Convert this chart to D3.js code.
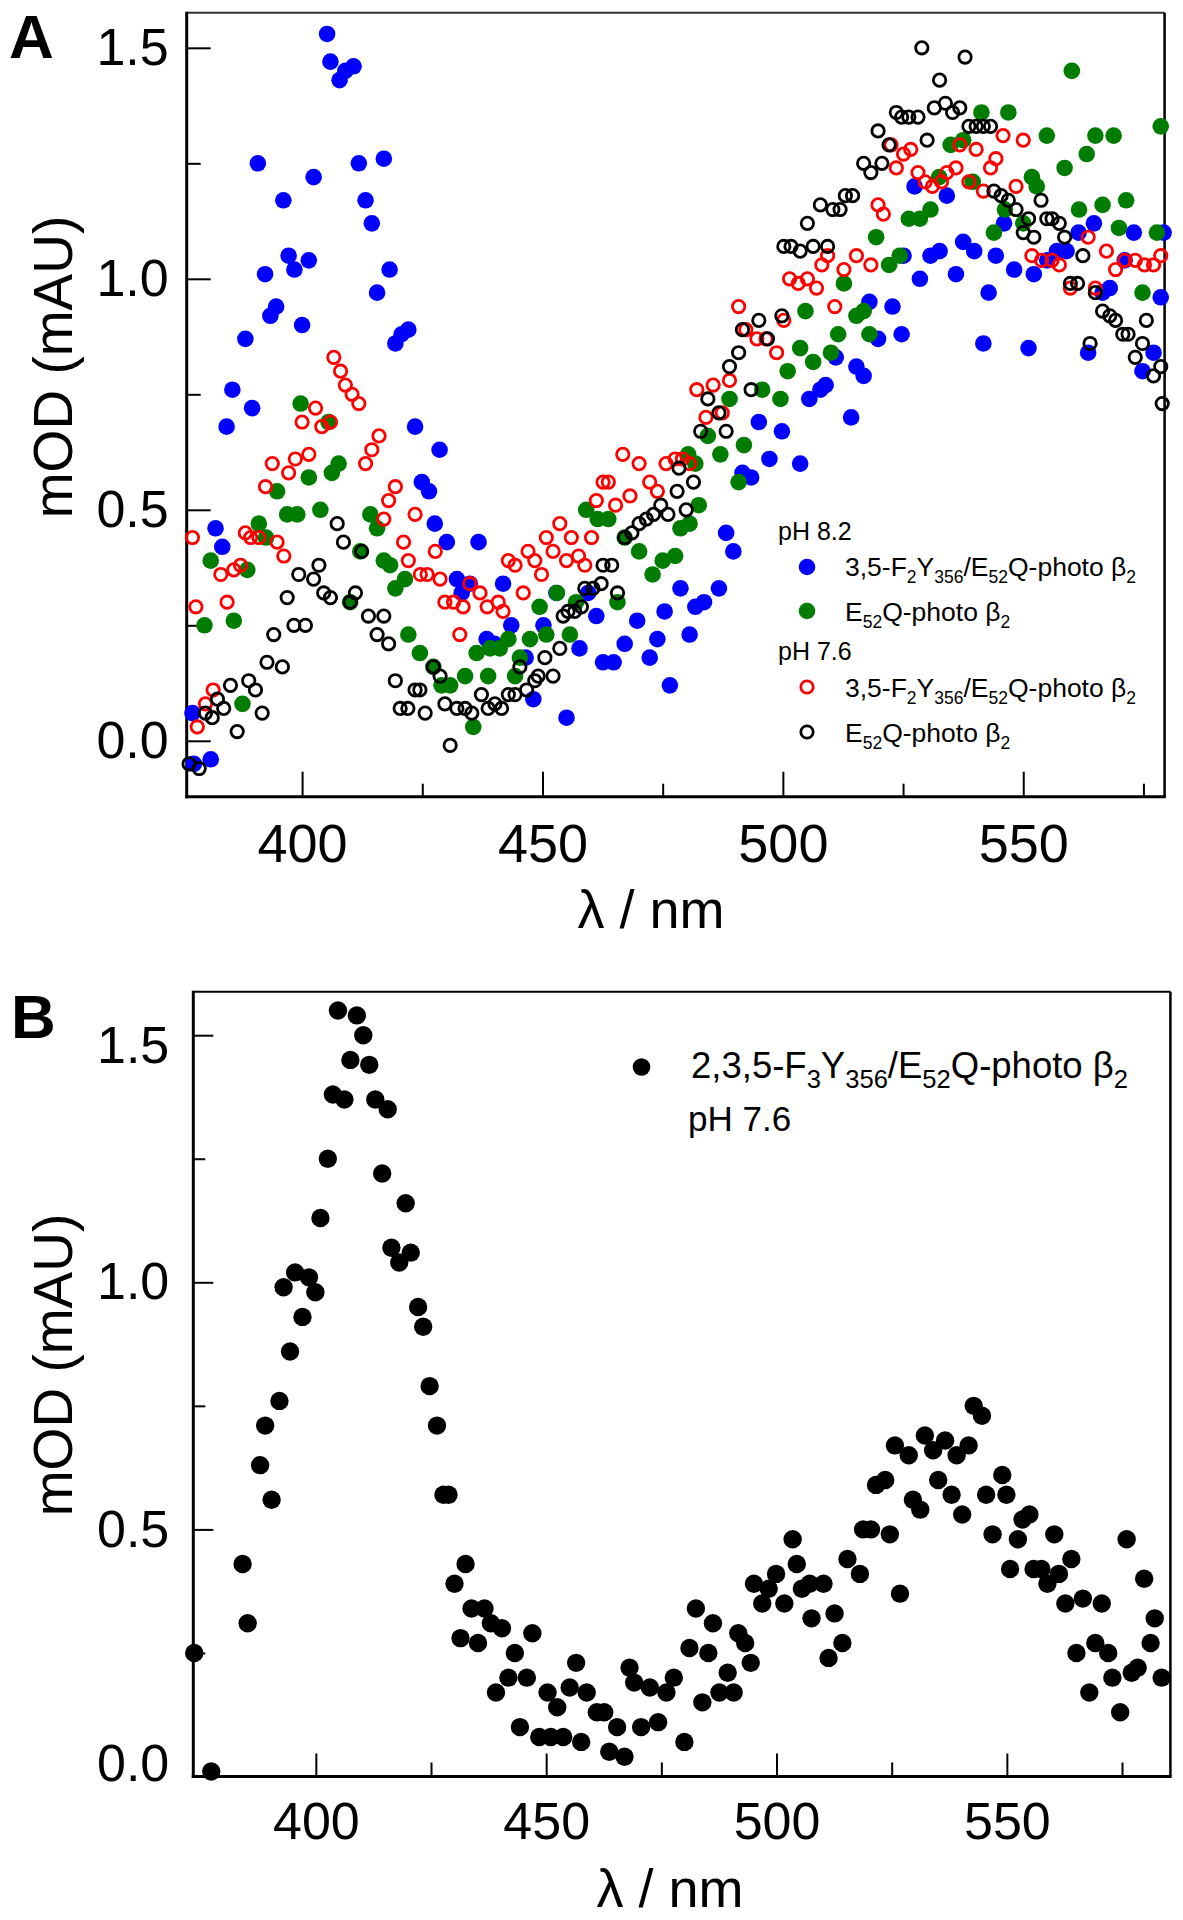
<!DOCTYPE html>
<html><head><meta charset="utf-8">
<script src="https://cdn.jsdelivr.net/npm/d3@7"></script>
<style>
body{margin:0;background:#fff}
svg{display:block}
text{font-family:"Liberation Sans",Arial,Helvetica,sans-serif;fill:#000}
</style>
</head><body>
<svg id="chart" width="1183" height="1920"></svg>
<script>
// ---------------- DATA ----------------
const xMajorTicks = [400, 450, 500, 550];
const xMinorTicks = [425, 475, 525, 575];
const yMajorTicks = [0, 0.5, 1.0, 1.5];
const yMinorTicks = [0.25, 0.75, 1.25];

// Panel A, pH 8.2, 3,5-F2Y356/E52Q-photoβ2 (blue, filled)
const aBlue = [[377.2,0.06],[377.5,-0.05],[381.0,-0.04],[382.0,0.46],[383.4,0.42],[384.3,0.68],[385.5,0.76],[388.2,0.87],[389.6,0.72],[390.8,1.25],[392.3,1.01],[393.4,0.92],[394.6,0.94],[396.1,1.17],[397.2,1.05],[398.4,1.02],[400.0,0.90],[401.4,1.04],[402.4,1.22],[405.2,1.53],[405.9,1.47],[407.8,1.43],[409.0,1.45],[410.7,1.46],[411.8,1.25],[413.2,1.17],[414.5,1.12],[415.6,0.97],[417.0,1.26],[418.2,1.02],[419.4,0.86],[420.7,0.88],[422.1,0.89],[423.5,0.68],[424.9,0.56],[426.4,0.54],[427.6,0.47],[428.6,0.63],[430.1,0.43],[432.2,0.35],[433.2,0.32],[434.9,0.34],[436.7,0.43],[438.4,0.22],[440.0,0.21],[441.8,0.34],[443.5,0.25],[446.5,0.18],[448.1,0.09],[450.2,0.25],[452.9,0.32],[455.0,0.05],[457.7,0.20],[459.5,0.32],[461.2,0.27],[462.6,0.17],[464.8,0.17],[467.1,0.21],[469.7,0.26],[472.3,0.18],[473.9,0.22],[475.4,0.28],[476.5,0.12],[478.7,0.33],[480.6,0.23],[481.8,0.29],[483.6,0.30],[486.7,0.33],[488.2,0.45],[489.7,0.41],[491.6,0.58],[493.4,0.57],[495.0,0.69],[497.2,0.61],[499.8,0.67],[503.6,0.60],[505.5,0.74],[507.8,0.76],[508.9,0.77],[511.0,0.83],[514.2,0.70],[515.3,0.81],[516.8,0.79],[518.0,0.95],[519.8,0.87],[522.8,0.94],[524.7,0.88],[525.1,1.05],[527.4,1.20],[528.5,1.00],[530.7,1.05],[532.6,1.06],[534.1,1.18],[536.0,1.01],[537.5,1.08],[539.8,1.06],[541.7,0.86],[542.8,0.97],[544.3,1.05],[546.0,1.12],[548.1,1.02],[551.1,0.85],[552.2,1.01],[555.0,1.04],[557.0,1.06],[559.0,1.06],[561.5,1.10],[563.5,0.84],[564.7,1.12],[566.5,0.97],[568.0,0.98],[571.1,1.04],[573.0,1.10],[574.8,0.80],[577.1,0.84],[578.6,0.96],[579.2,1.10]];

// Panel A, pH 8.2, E52Q-photoβ2 (green, filled)
const aGreen = [[379.7,0.25],[381.0,0.39],[385.8,0.26],[387.6,0.08],[388.6,0.37],[391.0,0.47],[392.5,0.44],[394.8,0.54],[396.9,0.49],[399.0,0.49],[399.7,0.73],[401.4,0.57],[403.8,0.50],[405.5,0.69],[406.2,0.58],[407.6,0.60],[410.0,0.30],[412.1,0.41],[414.2,0.49],[415.6,0.46],[417.0,0.39],[418.3,0.38],[419.4,0.33],[421.4,0.35],[422.1,0.23],[424.5,0.19],[427.3,0.16],[429.0,0.12],[430.8,0.12],[433.9,0.14],[435.6,0.03],[436.3,0.19],[438.7,0.14],[439.1,0.20],[441.1,0.20],[442.9,0.22],[444.3,0.14],[445.3,0.18],[447.4,0.22],[449.4,0.29],[450.8,0.23],[453.0,0.32],[455.7,0.23],[457.0,0.30],[459.1,0.50],[461.5,0.48],[463.7,0.48],[465.6,0.30],[467.1,0.44],[470.1,0.41],[472.9,0.36],[475.0,0.39],[477.6,0.40],[478.7,0.46],[480.3,0.62],[480.6,0.47],[481.8,0.60],[482.5,0.51],[484.4,0.66],[487.0,0.62],[488.9,0.74],[490.8,0.56],[491.9,0.64],[495.7,0.76],[499.5,0.74],[501.0,0.80],[503.6,0.85],[504.7,0.93],[506.3,0.82],[510.0,0.84],[511.5,0.88],[512.7,0.99],[515.3,0.92],[516.8,0.93],[518.0,0.88],[519.4,1.09],[522.1,1.03],[524.3,1.05],[526.2,1.13],[528.5,1.13],[530.7,1.15],[532.5,1.22],[534.9,1.29],[537.5,1.30],[539.5,1.21],[541.3,1.36],[543.9,1.10],[546.2,1.15],[546.9,1.36],[550.0,1.12],[551.8,1.22],[552.8,1.20],[554.9,1.31],[558.6,1.24],[560.1,1.45],[561.6,1.15],[563.2,1.27],[565.0,1.31],[566.5,1.16],[568.8,1.31],[569.9,1.11],[571.4,1.17],[574.8,0.97],[577.8,1.10],[578.6,1.33]];

// Panel A, pH 7.6, 3,5-F2Y356/E52Q-photoβ2 (red, open)
const aRed = [[377.2,0.44],[377.9,0.29],[378.2,0.03],[379.9,0.08],[381.5,0.11],[383.1,0.36],[384.4,0.30],[385.8,0.37],[387.2,0.38],[388.2,0.45],[389.3,0.44],[391.0,0.44],[392.4,0.55],[393.8,0.60],[394.8,0.43],[396.2,0.40],[397.2,0.58],[398.6,0.61],[400.0,0.69],[401.4,0.62],[402.8,0.72],[404.1,0.68],[405.9,0.69],[406.6,0.83],[408.0,0.80],[409.0,0.77],[410.4,0.75],[411.8,0.73],[413.2,0.60],[414.5,0.63],[416.0,0.66],[417.0,0.48],[418.0,0.52],[419.4,0.55],[421.1,0.43],[422.1,0.39],[423.5,0.49],[424.6,0.36],[426.0,0.36],[427.7,0.41],[428.7,0.35],[429.7,0.30],[431.5,0.30],[432.8,0.23],[433.5,0.29],[434.9,0.34],[437.0,0.32],[438.5,0.29],[440.8,0.30],[441.8,0.28],[442.9,0.39],[444.3,0.38],[446.0,0.32],[447.0,0.41],[448.4,0.39],[449.8,0.36],[450.8,0.44],[452.2,0.41],[453.6,0.47],[455.0,0.39],[456.0,0.44],[457.5,0.40],[458.8,0.38],[460.2,0.44],[461.2,0.52],[462.6,0.56],[463.7,0.56],[465.2,0.51],[466.7,0.62],[468.2,0.53],[470.1,0.60],[472.3,0.56],[473.9,0.54],[475.7,0.60],[477.6,0.61],[479.1,0.61],[480.6,0.60],[482.1,0.76],[484.0,0.70],[485.5,0.77],[487.4,0.71],[488.9,0.78],[490.8,0.94],[492.3,0.89],[494.6,0.87],[496.5,0.87],[498.7,0.84],[500.2,0.91],[501.4,1.00],[503.2,0.99],[505.1,1.00],[507.0,0.98],[508.1,1.03],[509.3,1.05],[510.8,0.94],[512.7,1.02],[515.3,1.05],[518.3,1.03],[519.8,1.16],[520.9,1.14],[522.5,1.29],[523.6,1.24],[525.1,1.27],[526.6,1.28],[528.1,1.23],[529.6,1.21],[531.1,1.20],[533.0,1.21],[534.1,1.23],[536.0,1.24],[536.8,1.29],[538.7,1.21],[540.2,1.28],[541.7,1.19],[543.2,1.24],[544.3,1.26],[545.8,1.31],[548.5,1.20],[550.0,1.30],[551.8,1.05],[553.8,1.04],[556.0,1.04],[557.5,1.03],[559.8,0.98],[563.5,1.09],[565.0,0.98],[567.3,1.06],[569.2,1.02],[571.1,1.04],[573.3,1.04],[575.2,1.03],[577.1,1.03],[578.6,1.05]];

// Panel A, pH 7.6, E52Q-photoβ2 (black, open)
const aBlack = [[376.5,-0.05],[378.6,-0.06],[379.9,0.06],[381.3,0.05],[382.4,0.09],[383.7,0.07],[385.1,0.12],[386.5,0.02],[388.9,0.13],[390.3,0.11],[391.7,0.06],[392.7,0.17],[394.1,0.23],[395.9,0.16],[396.9,0.31],[398.3,0.25],[399.3,0.36],[400.7,0.25],[402.4,0.35],[403.5,0.38],[404.5,0.32],[405.9,0.31],[407.3,0.47],[408.6,0.43],[410.0,0.30],[411.1,0.32],[412.4,0.41],[413.8,0.27],[415.6,0.23],[417.0,0.27],[418.0,0.21],[419.4,0.13],[420.4,0.07],[422.0,0.07],[423.5,0.11],[424.5,0.11],[425.6,0.06],[427.3,0.16],[428.7,0.14],[429.7,0.08],[430.8,-0.01],[432.2,0.07],[433.9,0.07],[435.3,0.06],[437.3,0.10],[438.7,0.07],[440.1,0.08],[441.5,0.07],[442.9,0.10],[444.3,0.10],[445.3,0.16],[446.7,0.11],[448.4,0.13],[449.1,0.14],[450.5,0.18],[452.2,0.14],[453.6,0.20],[454.3,0.27],[455.3,0.28],[456.7,0.28],[458.1,0.29],[458.8,0.33],[460.5,0.33],[462.2,0.34],[462.6,0.38],[464.4,0.38],[465.6,0.32],[467.1,0.44],[468.6,0.45],[470.1,0.47],[471.6,0.48],[473.1,0.49],[474.6,0.51],[476.1,0.49],[478.0,0.54],[478.4,0.59],[479.9,0.50],[481.4,0.56],[482.9,0.67],[484.4,0.74],[486.7,0.71],[488.2,0.67],[488.9,0.81],[490.8,0.84],[491.6,0.89],[493.4,0.76],[495.0,0.91],[496.8,0.87],[499.8,0.92],[500.2,1.07],[501.7,1.07],[503.6,1.06],[505.1,1.12],[506.3,1.07],[507.8,1.16],[509.3,1.07],[510.4,1.15],[511.9,1.15],[513.0,1.18],[514.5,1.18],[516.8,1.25],[518.3,1.23],[519.8,1.32],[520.6,1.25],[522.1,1.29],[523.6,1.36],[524.7,1.35],[526.2,1.35],[528.1,1.35],[528.9,1.50],[530.0,1.30],[531.5,1.37],[532.6,1.43],[533.8,1.38],[535.3,1.36],[536.8,1.37],[537.9,1.48],[538.7,1.33],[540.2,1.33],[541.7,1.33],[543.2,1.33],[543.9,1.19],[545.4,1.18],[546.9,1.17],[548.5,1.15],[550.0,1.10],[551.1,1.13],[552.2,1.09],[553.7,1.17],[554.9,1.13],[556.0,1.13],[557.5,1.12],[558.6,1.09],[559.8,0.99],[561.3,0.99],[562.4,1.05],[563.9,0.86],[565.0,0.97],[566.5,0.93],[568.0,0.92],[569.2,0.91],[570.7,0.88],[571.8,0.88],[573.3,0.83],[574.8,0.86],[575.6,0.91],[577.1,0.79],[578.6,0.81],[578.9,0.73]];

// Panel B, pH 7.6, 2,3,5-F3Y356/E52Q-photoβ2 (black, filled)
const bBlack = [[373.6,0.25],[377.3,0.01],[384.1,0.43],[385.2,0.31],[387.9,0.63],[389.0,0.71],[390.4,0.56],[392.1,0.76],[393.0,0.99],[394.4,0.86],[395.5,1.02],[397.1,0.93],[398.5,1.01],[399.9,0.98],[401.0,1.13],[402.6,1.25],[403.7,1.38],[404.8,1.55],[406.2,1.37],[407.5,1.45],[408.9,1.54],[410.3,1.50],[411.6,1.44],[412.9,1.37],[414.4,1.22],[415.6,1.35],[416.4,1.07],[418.1,1.04],[419.5,1.16],[420.6,1.06],[422.2,0.95],[423.3,0.91],[424.7,0.79],[426.3,0.71],[427.7,0.57],[428.8,0.57],[430.1,0.39],[431.4,0.28],[432.5,0.43],[433.8,0.34],[435.2,0.27],[436.6,0.34],[438.0,0.31],[439.1,0.17],[440.4,0.30],[441.8,0.20],[443.2,0.25],[444.3,0.10],[445.8,0.20],[447.0,0.29],[448.5,0.08],[450.3,0.17],[451.0,0.08],[452.4,0.14],[453.7,0.08],[455.1,0.18],[456.5,0.23],[457.6,0.07],[458.8,0.17],[461.0,0.13],[462.6,0.13],[463.7,0.05],[465.4,0.10],[467.0,0.04],[468.1,0.22],[469.1,0.19],[470.6,0.10],[472.5,0.18],[474.3,0.11],[476.1,0.17],[477.7,0.20],[480.0,0.07],[481.1,0.26],[482.5,0.34],[483.9,0.15],[485.2,0.25],[486.2,0.31],[487.6,0.17],[489.4,0.21],[490.7,0.17],[491.7,0.29],[493.2,0.27],[494.4,0.23],[495.1,0.39],[496.9,0.35],[498.3,0.38],[499.9,0.41],[501.7,0.35],[503.5,0.48],[504.4,0.43],[505.5,0.38],[507.2,0.39],[507.6,0.32],[510.2,0.39],[511.3,0.24],[512.6,0.33],[514.3,0.27],[515.4,0.44],[518.1,0.41],[518.8,0.50],[520.5,0.50],[521.6,0.59],[523.6,0.60],[524.6,0.49],[525.7,0.67],[526.8,0.37],[528.7,0.65],[529.6,0.56],[531.2,0.54],[532.2,0.69],[534.0,0.66],[535.1,0.60],[536.6,0.68],[538.0,0.57],[539.1,0.65],[540.3,0.53],[541.7,0.67],[542.8,0.75],[544.6,0.73],[545.5,0.57],[546.9,0.49],[549.0,0.61],[549.9,0.57],[550.7,0.42],[552.4,0.48],[553.4,0.52],[554.9,0.53],[555.8,0.42],[557.5,0.42],[558.8,0.39],[560.3,0.49],[561.3,0.41],[562.7,0.35],[564.0,0.44],[565.1,0.25],[566.5,0.36],[567.9,0.17],[569.2,0.27],[570.6,0.35],[572.0,0.25],[572.9,0.20],[574.6,0.13],[576.0,0.48],[577.1,0.21],[578.4,0.22],[579.8,0.40],[581.2,0.27],[582.1,0.32],[583.6,0.20]];

// ---------------- DRAWING ----------------
const svg = d3.select("#chart");
const FONT = '"Liberation Sans", Arial, Helvetica, sans-serif';
const R_FILLED_A = 8.3, R_OPEN_A = 6.2, W_OPEN_A = 2.8, R_B = 9.2;

function drawPanel(cfg) {
  const g = svg.append("g");
  const x = d3.scaleLinear().domain(cfg.xDomain).range([cfg.left, cfg.right]);
  const y = d3.scaleLinear().domain(cfg.yDomain).range([cfg.bottom, cfg.top]);

  g.append("g").attr("transform", `translate(0,${cfg.bottom})`)
    .call(d3.axisBottom(x).tickValues(xMinorTicks).tickSize(-cfg.xMinorLen).tickFormat(""))
    .call(s => { s.select(".domain").remove(); s.selectAll("line").attr("stroke", "#000").attr("stroke-width", 2); });
  g.append("g").attr("transform", `translate(${cfg.left},0)`)
    .call(d3.axisLeft(y).tickValues(yMinorTicks).tickSize(-cfg.yMinorLen).tickFormat(""))
    .call(s => { s.select(".domain").remove(); s.selectAll("line").attr("stroke", "#000").attr("stroke-width", 2); });

  g.append("g").attr("transform", `translate(0,${cfg.bottom})`)
    .call(d3.axisBottom(x).tickValues(xMajorTicks).tickSize(-cfg.xMajorLen).tickPadding(cfg.xPad).tickFormat(d3.format("d")))
    .call(s => {
      s.select(".domain").remove();
      s.selectAll("line").attr("stroke", "#000").attr("stroke-width", 2);
      s.selectAll("text").attr("font-size", cfg.xFont).attr("font-family", FONT).attr("fill", "#000");
    });
  g.append("g").attr("transform", `translate(${cfg.left},0)`)
    .call(d3.axisLeft(y).tickValues(yMajorTicks).tickSize(-cfg.yMajorLen).tickPadding(cfg.yPad).tickFormat(d3.format(".1f")))
    .call(s => {
      s.select(".domain").remove();
      s.selectAll("line").attr("stroke", "#000").attr("stroke-width", 2);
      s.selectAll("text").attr("font-size", cfg.yFont).attr("font-family", FONT).attr("fill", "#000")
        .attr("transform", d => `translate(0,${(cfg.yLabelNudge && cfg.yLabelNudge[d]) || 0})`);
    });

  g.append("line").attr("x1", cfg.left).attr("x2", cfg.right).attr("y1", cfg.top).attr("y2", cfg.top)
    .attr("stroke", cfg.topColor).attr("stroke-width", 2);
  g.append("line").attr("x1", cfg.right).attr("x2", cfg.right).attr("y1", cfg.top).attr("y2", cfg.bottom)
    .attr("stroke", "#000").attr("stroke-width", 2.5);
  g.append("line").attr("x1", cfg.left).attr("x2", cfg.left).attr("y1", cfg.top - 1).attr("y2", cfg.bottom + 1.5)
    .attr("stroke", "#000").attr("stroke-width", 3);
  g.append("line").attr("x1", cfg.left - 1.5).attr("x2", cfg.right + 1.2).attr("y1", cfg.bottom).attr("y2", cfg.bottom)
    .attr("stroke", "#000").attr("stroke-width", 3);

  g.append("text").attr("x", cfg.xTitleX).attr("y", cfg.xTitleY).attr("text-anchor", "middle")
    .attr("font-size", 54).text("λ / nm");
  g.append("text").attr("transform", `translate(${cfg.yTitleX},${cfg.yTitleY}) rotate(-90)`)
    .attr("text-anchor", "middle").attr("font-size", 55).text("mOD (mAU)");
  g.append("text").attr("x", cfg.letterX).attr("y", cfg.letterY).attr("font-size", 62)
    .attr("font-weight", "bold").text(cfg.letter);

  return {g, x, y};
}

function richText(sel, parts, size, subScale) {
  parts.forEach((p, i) => {
    const prevSub = i > 0 && parts[i - 1].sub;
    const t = sel.append("tspan").text(p.t);
    if (p.sub) {
      t.attr("font-size", size * subScale).attr("dy", size * 0.28);
    } else {
      t.attr("font-size", size);
      if (prevSub) t.attr("dy", -size * 0.28);
    }
  });
}
const legF2 = [{t:"3,5-F"},{t:"2",sub:true},{t:"Y"},{t:"356",sub:true},{t:"/E"},{t:"52",sub:true},{t:"Q-photo β"},{t:"2",sub:true}];
const legE = [{t:"E"},{t:"52",sub:true},{t:"Q-photo β"},{t:"2",sub:true}];
const legF3 = [{t:"2,3,5-F"},{t:"3",sub:true},{t:"Y"},{t:"356",sub:true},{t:"/E"},{t:"52",sub:true},{t:"Q-photo β"},{t:"2",sub:true}];

// ---------- Panel A ----------
const A = drawPanel({
  xDomain: [376.0, 579.4], yDomain: [-0.121, 1.576],
  left: 186.7, right: 1164.6, top: 12.7, bottom: 796.7,
  xMajorLen: 25, xMinorLen: 13, yMajorLen: 24, yMinorLen: 14,
  xPad: 27, yPad: 18, xFont: 54, yFont: 52, topColor: "#333",
  xTitleX: 651, xTitleY: 928, yTitleX: 72, yTitleY: 367,
  letter: "A", letterX: 9, letterY: 58
});
const dotsA = A.g.append("g");
dotsA.selectAll(".b").data(aBlue).join("circle").attr("cx", d => A.x(d[0])).attr("cy", d => A.y(d[1]))
  .attr("r", R_FILLED_A).attr("fill", "#0000ff");
dotsA.selectAll(".gr").data(aGreen).join("circle").attr("cx", d => A.x(d[0])).attr("cy", d => A.y(d[1]))
  .attr("r", R_FILLED_A).attr("fill", "#007d00");
dotsA.selectAll(".r").data(aRed).join("circle").attr("cx", d => A.x(d[0])).attr("cy", d => A.y(d[1]))
  .attr("r", R_OPEN_A).attr("fill", "none").attr("stroke", "#ff0000").attr("stroke-width", W_OPEN_A);
dotsA.selectAll(".k").data(aBlack).join("circle").attr("cx", d => A.x(d[0])).attr("cy", d => A.y(d[1]))
  .attr("r", R_OPEN_A).attr("fill", "none").attr("stroke", "#000").attr("stroke-width", W_OPEN_A);

const legA = svg.append("g");
legA.append("text").attr("x", 778).attr("y", 540).attr("font-size", 25).text("pH 8.2");
legA.append("circle").attr("cx", 807).attr("cy", 567).attr("r", R_FILLED_A).attr("fill", "#0000ff");
richText(legA.append("text").attr("x", 845).attr("y", 576), legF2, 26.5, 0.66);
legA.append("circle").attr("cx", 807).attr("cy", 611).attr("r", R_FILLED_A).attr("fill", "#007d00");
richText(legA.append("text").attr("x", 845).attr("y", 621), legE, 26.5, 0.66);
legA.append("text").attr("x", 778).attr("y", 660).attr("font-size", 25).text("pH 7.6");
legA.append("circle").attr("cx", 807).attr("cy", 687).attr("r", R_OPEN_A).attr("fill", "none").attr("stroke", "#ff0000").attr("stroke-width", W_OPEN_A);
richText(legA.append("text").attr("x", 845).attr("y", 697), legF2, 26.5, 0.66);
legA.append("circle").attr("cx", 807).attr("cy", 732).attr("r", R_OPEN_A).attr("fill", "none").attr("stroke", "#000").attr("stroke-width", W_OPEN_A);
richText(legA.append("text").attr("x", 845).attr("y", 742), legE, 26.5, 0.66);

// ---------- Panel B ----------
const B = drawPanel({
  xDomain: [373.4, 585.5], yDomain: [0, 1.588],
  left: 193.3, right: 1170.4, top: 991.7, bottom: 1776.5,
  xMajorLen: 23, xMinorLen: 14, yMajorLen: 20, yMinorLen: 12,
  xPad: 26, yPad: 24, xFont: 52, yFont: 52, topColor: "#000",
  yLabelNudge: {0: -13, 1.5: 11},
  xTitleX: 670, xTitleY: 1907, yTitleX: 72, yTitleY: 1365,
  letter: "B", letterX: 11, letterY: 1038
});
B.g.append("g").selectAll("circle").data(bBlack).join("circle")
  .attr("cx", d => B.x(d[0])).attr("cy", d => B.y(d[1])).attr("r", R_B).attr("fill", "#000");

const legB = svg.append("g");
legB.append("circle").attr("cx", 641.5).attr("cy", 1067).attr("r", 8.8).attr("fill", "#000");
richText(legB.append("text").attr("x", 691).attr("y", 1078), legF3, 36.5, 0.7);
legB.append("text").attr("x", 688).attr("y", 1131).attr("font-size", 35).text("pH 7.6");
</script>
</body></html>
